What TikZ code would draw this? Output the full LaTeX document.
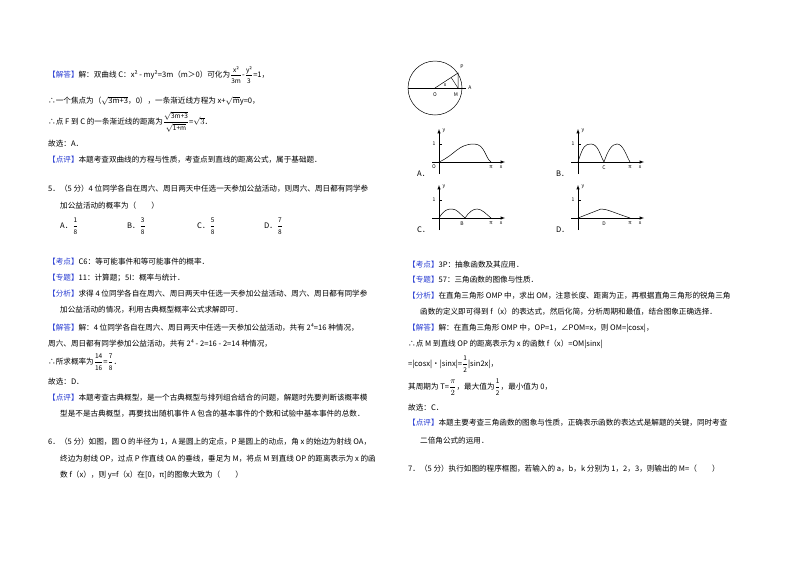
\documentclass[tikz,border=0pt]{standalone}
\usepackage{amsmath}
\usepackage{fontspec}
\usetikzlibrary{calc}
\setmainfont{Noto Sans CJK SC}
\definecolor{lblue}{RGB}{40,60,210}
\tikzset{t/.style={anchor=west,inner sep=0pt,font=\fontsize{7.6}{8}\selectfont},
ax/.style={-latex,line width=0.5pt},cur/.style={line width=0.5pt},sm/.style={font=\fontsize{5}{6}\selectfont\itshape,inner sep=1pt}}
\newcommand{\bl}[1]{\textcolor{lblue}{【#1】}}
\newcommand{\fr}[2]{$\dfrac{\text{\fontsize{6.5}{7}\selectfont #1}}{\text{\fontsize{6.5}{7}\selectfont #2}}$}
\begin{document}
\begin{tikzpicture}[x=1pt,y=-1pt]
\useasboundingbox (0,0) rectangle (800,565);
\fill[white] (0,0) rectangle (800,565);
% left column
\node[t] (l1) at (48,75) {\bl{解答}解：双曲线 C：x² - my²=3m（m＞0）可化为\fr{x²}{3m}-\fr{y²}{3}=1，};
\node[t] (l2) at (48,101) {∴一个焦点为（$\sqrt{\text{3m+3}}$，0），一条渐近线方程为 x+$\sqrt{\text{m}}$y=0，};
\node[t] (l3) at (48,122) {∴点 F 到 C 的一条渐近线的距离为$\dfrac{\sqrt{\text{\fontsize{6.5}{7}\selectfont 3m+3}}}{\sqrt{\text{\fontsize{6.5}{7}\selectfont 1+m}}}$=$\sqrt{3}$．};
\node[t] (l4) at (48,144) {故选：A．};
\node[t] (l5) at (48,160) {\bl{点评}本题考查双曲线的方程与性质，考查点到直线的距离公式，属于基础题．};
\node[t] (l6) at (48,189) {5．（5 分）4 位同学各自在周六、周日两天中任选一天参加公益活动，则周六、周日都有同学参};
\node[t] (l7) at (60,206) {加公益活动的概率为（　　）};
\node[t] (oa) at (60,226) {A．\fr{1}{8}};
\node[t] (ob) at (127,226) {B．\fr{3}{8}};
\node[t] (oc) at (197,226) {C．\fr{5}{8}};
\node[t] (od) at (264,226) {D．\fr{7}{8}};
\node[t] (l8) at (48,262) {\bl{考点}C6：等可能事件和等可能事件的概率．};
\node[t] (l9) at (48,278) {\bl{专题}11：计算题；5I：概率与统计．};
\node[t] (l10) at (48,294) {\bl{分析}求得 4 位同学各自在周六、周日两天中任选一天参加公益活动、周六、周日都有同学参};
\node[t] (l11) at (60,310) {加公益活动的情况，利用古典概型概率公式求解即可．};
\node[t] (l12) at (48,328) {\bl{解答}解：4 位同学各自在周六、周日两天中任选一天参加公益活动，共有 2⁴=16 种情况，};
\node[t] (l13) at (48,344) {周六、周日都有同学参加公益活动，共有 2⁴ - 2=16 - 2=14 种情况，};
\node[t] (l14) at (48,362) {∴所求概率为\fr{14}{16}=\fr{7}{8}．};
\node[t] (l15) at (48,382) {故选：D．};
\node[t] (l16) at (48,398) {\bl{点评}本题考查古典概型，是一个古典概型与排列组合结合的问题，解题时先要判断该概率模};
\node[t] (l17) at (60,414) {型是不是古典概型，再要找出随机事件 A 包含的基本事件的个数和试验中基本事件的总数．};
\node[t] (l18) at (48,442) {6．（5 分）如图，圆 O 的半径为 1，A 是圆上的定点，P 是圆上的动点，角 x 的始边为射线 OA，};
\node[t] (l19) at (60,459) {终边为射线 OP，过点 P 作直线 OA 的垂线，垂足为 M，将点 M 到直线 OP 的距离表示为 x 的函};
\node[t] (l20) at (60,475) {数 f（x），则 y=f（x）在[0，π]的图象大致为（　　）};
% circle figure
\coordinate (O) at (435,88); \coordinate (P) at (458,73); \coordinate (M) at (458,88);
\draw[line width=0.5pt] (O) circle (27);
\draw[line width=0.5pt] (408,88) -- (466,88);
\draw[line width=0.5pt] (O) -- (P) -- (M);
\draw[line width=0.4pt] (M) -- ($(O)!(M)!(P)$);
\node[sm] at (435,95) {O}; \node[sm] at (456,95) {M}; \node[sm] at (470,88) {A};
\node[sm] at (462,67) {P}; \node[sm] at (445,85) {x};
% graphs
\foreach \gx/\gy/\k in {439/162/A,578/162/B,439/218/C,578/218/D}{
  \draw[ax] (\gx-7,\gy) -- (\gx+66,\gy);
  \draw[ax] (\gx,\gy+12) -- (\gx,\gy-33);
  \node[sm] at (\gx+5,\gy-31) {y};
  \node[sm] at (\gx+62,\gy+5) {x};
  \node[sm,font=\fontsize{5}{6}\selectfont] at (\gx+52,\gy+5) {π};
  \draw[line width=0.4pt] (\gx,\gy-18) -- (\gx+3,\gy-18);
  \node[sm,font=\fontsize{5}{6}\selectfont] at (\gx-5,\gy-18) {1};
  \node[t] at (\gx-22,\gy+12) {\k．};
}
\draw[cur] (439,162) .. controls (455,155) and (458,144) .. (474,144) .. controls (485,144) and (485,158) .. (491,162);
\node[sm] at (434,167) {O};
\draw[cur] (578,162) .. controls (583,146) and (585,144) .. (591,144) .. controls (598,144) and (600,155) .. (604,162) .. controls (608,150) and (612,144) .. (617,144) .. controls (623,144) and (626,155) .. (630,162);
\node[sm] at (604,168) {C};
\draw[cur] (439,218) .. controls (444,210) and (447,209) .. (452,209) .. controls (457,209) and (460,214) .. (465,218) .. controls (469,212) and (473,209) .. (477,209) .. controls (482,209) and (486,214) .. (491,218);
\node[sm] at (462,224) {B};
\draw[cur] (578,218) -- (601,209) .. controls (607,209) and (612,212) .. (630,218);
\node[sm] at (604,224) {D};
% right column
\node[t] (r1) at (408,265) {\bl{考点}3P：抽象函数及其应用．};
\node[t] (r2) at (408,280) {\bl{专题}57：三角函数的图像与性质．};
\node[t] (r3) at (408,296) {\bl{分析}在直角三角形 OMP 中，求出 OM，注意长度、距离为正，再根据直角三角形的锐角三角};
\node[t] (r4) at (420,312) {函数的定义即可得到 f（x）的表达式，然后化简，分析周期和最值，结合图象正确选择．};
\node[t] (r5) at (408,328) {\bl{解答}解：在直角三角形 OMP 中，OP=1，∠POM=x，则 OM=|cosx|，};
\node[t] (r6) at (408,344) {∴点 M 到直线 OP 的距离表示为 x 的函数 f（x）=OM|sinx|};
\node[t] (r7) at (408,364) {=|cosx|•|sinx|=\fr{1}{2}|sin2x|，};
\node[t] (r8) at (408,387) {其周期为 T=$\dfrac{\pi}{2}$，最大值为\fr{1}{2}，最小值为 0，};
\node[t] (r9) at (408,408) {故选：C．};
\node[t] (r10) at (408,423) {\bl{点评}本题主要考查三角函数的图象与性质，正确表示函数的表达式是解题的关键，同时考查};
\node[t] (r11) at (420,441) {二倍角公式的运用．};
\node[t] (r12) at (408,469) {7．（5 分）执行如图的程序框图，若输入的 a，b，k 分别为 1，2，3，则输出的 M=（　　）};
\end{tikzpicture}
\end{document}
